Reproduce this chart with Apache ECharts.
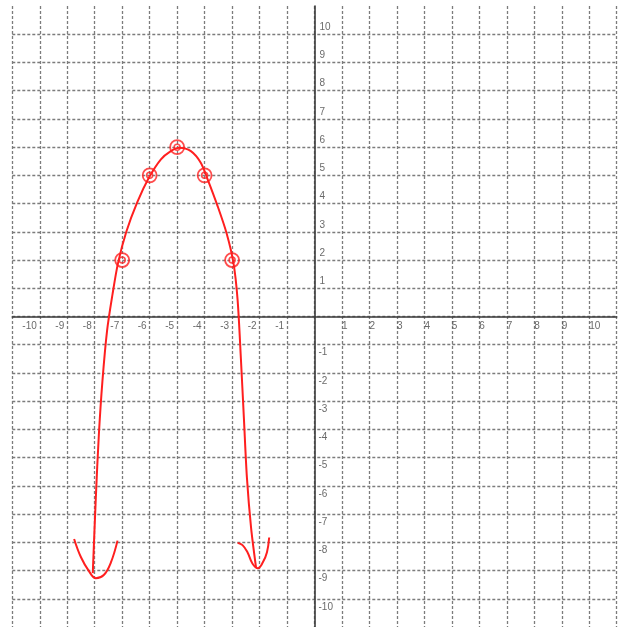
<!DOCTYPE html>
<html>
<head>
<meta charset="utf-8">
<script src="https://cdn.jsdelivr.net/npm/echarts@6/dist/echarts.min.js"></script>
<style>
  html, body { margin: 0; padding: 0; background: #fff; }
  #chart { width: 621px; height: 627px; }
</style>
</head>
<body>
<div id="chart"></div>
<script>
// Tick labels along each axis
const xTickValues = [-10, -9, -8, -7, -6, -5, -4, -3, -2, -1, 1, 2, 3, 4, 5, 6, 7, 8, 9, 10];
const yTickValues = [-10, -9, -8, -7, -6, -5, -4, -3, -2, -1, 1, 2, 3, 4, 5, 6, 7, 8, 9, 10];

// Plotted points (circled)
const pointsX = [-7, -6, -5, -4, -3];
const pointsY = [2, 5, 6, 5, 2];

// Freehand curve through the points, from the lower-left end to the lower-right end
const curveX = [-8.07, -7.96, -7.85, -7.72, -7.55, -7.35, -7.15, -6.85, -6.45, -6.02,
                -5.59, -5.23, -4.93, -4.50, -4.14, -3.89, -3.53, -3.20, -2.95, -2.80,
                -2.68, -2.57, -2.46, -2.31, -2.13];
const curveY = [-9.09, -6.42, -4.20, -2.30, -0.50, 0.80, 1.90, 3.00, 4.05, 4.93,
                5.57, 5.86, 5.98, 5.86, 5.45, 4.86, 3.92, 2.95, 1.90, 0.60,
                -1.48, -3.60, -5.71, -7.47, -8.88];

// Arrow heads at both ends of the curve
const leftArrowX = [-8.75, -8.50, -8.21, -7.96, -7.67, -7.41, -7.17];
const leftArrowY = [-7.88, -8.53, -9.02, -9.27, -9.16, -8.71, -7.94];
const rightArrowX = [-2.80, -2.62, -2.44, -2.26, -2.06, -1.88, -1.73, -1.65];
const rightArrowY = [-8.02, -8.10, -8.35, -8.75, -8.92, -8.71, -8.35, -7.83];

const zip = (xs, ys) => xs.map((x, i) => [x, ys[i]]);

const RED = '#ff1f1f';
const GRID_LINE = { color: '#7c7c7c', width: 1.3, type: [3, 2] };
const LABEL_FONT = { fontFamily: 'Liberation Sans', fontSize: 10, color: '#444' };

const chart = echarts.init(document.getElementById('chart'), null, { renderer: 'canvas' });

chart.setOption({
  animation: false,
  backgroundColor: '#fff',
  grid: { left: 12.3, right: 4.3, top: 6, bottom: -3, containLabel: false },
  xAxis: {
    type: 'value', min: -11, max: 11, interval: 1,
    axisLine: { onZero: true, lineStyle: { color: '#3a3a3a', width: 1.6 } },
    axisTick: { show: false },
    axisLabel: { show: false },
    splitLine: { show: true, lineStyle: GRID_LINE }
  },
  yAxis: {
    type: 'value', min: -11, max: 11, interval: 1,
    axisLine: { onZero: true, lineStyle: { color: '#3a3a3a', width: 1.6 } },
    axisTick: { show: false },
    axisLabel: { show: false },
    splitLine: { show: true, showMaxLine: false, showMinLine: false, lineStyle: GRID_LINE }
  },
  series: [
    // x-axis numbers
    {
      type: 'scatter', symbolSize: 0, silent: true, z: 3,
      data: xTickValues.map(v => ({
        value: [v, 0],
        label: {
          show: true, position: 'inside',
          align: v < 0 ? 'right' : 'left', verticalAlign: 'middle',
          offset: v < 0 ? [-3, 10] : [0, 10],
          formatter: String(v), ...LABEL_FONT
        }
      }))
    },
    // y-axis numbers
    {
      type: 'scatter', symbolSize: 0, silent: true, z: 3,
      data: yTickValues.map(v => ({
        value: [0, v],
        label: {
          show: true, position: 'inside',
          align: 'left', verticalAlign: 'middle',
          offset: v < 0 ? [4, 8] : [5, -7],
          formatter: String(v), ...LABEL_FONT
        }
      }))
    },
    // the curve
    {
      type: 'line', data: zip(curveX, curveY), smooth: 0.3, showSymbol: false,
      lineStyle: { color: RED, width: 2 }, z: 5
    },
    {
      type: 'line', data: zip(leftArrowX, leftArrowY), smooth: 0.4, showSymbol: false,
      lineStyle: { color: RED, width: 2 }, z: 5
    },
    {
      type: 'line', data: zip(rightArrowX, rightArrowY), smooth: 0.4, showSymbol: false,
      lineStyle: { color: RED, width: 2 }, z: 5
    },
    // circled points
    {
      type: 'scatter', data: zip(pointsX, pointsY), symbol: 'circle', symbolSize: 14,
      itemStyle: { color: 'rgba(255,255,255,0)', borderColor: RED, borderWidth: 1.8 }, z: 6
    },
    {
      type: 'scatter', data: zip(pointsX, pointsY), symbol: 'circle', symbolSize: 6,
      itemStyle: { color: 'rgba(255,255,255,0)', borderColor: RED, borderWidth: 1.5 }, z: 6
    }
  ]
});
</script>
</body>
</html>
